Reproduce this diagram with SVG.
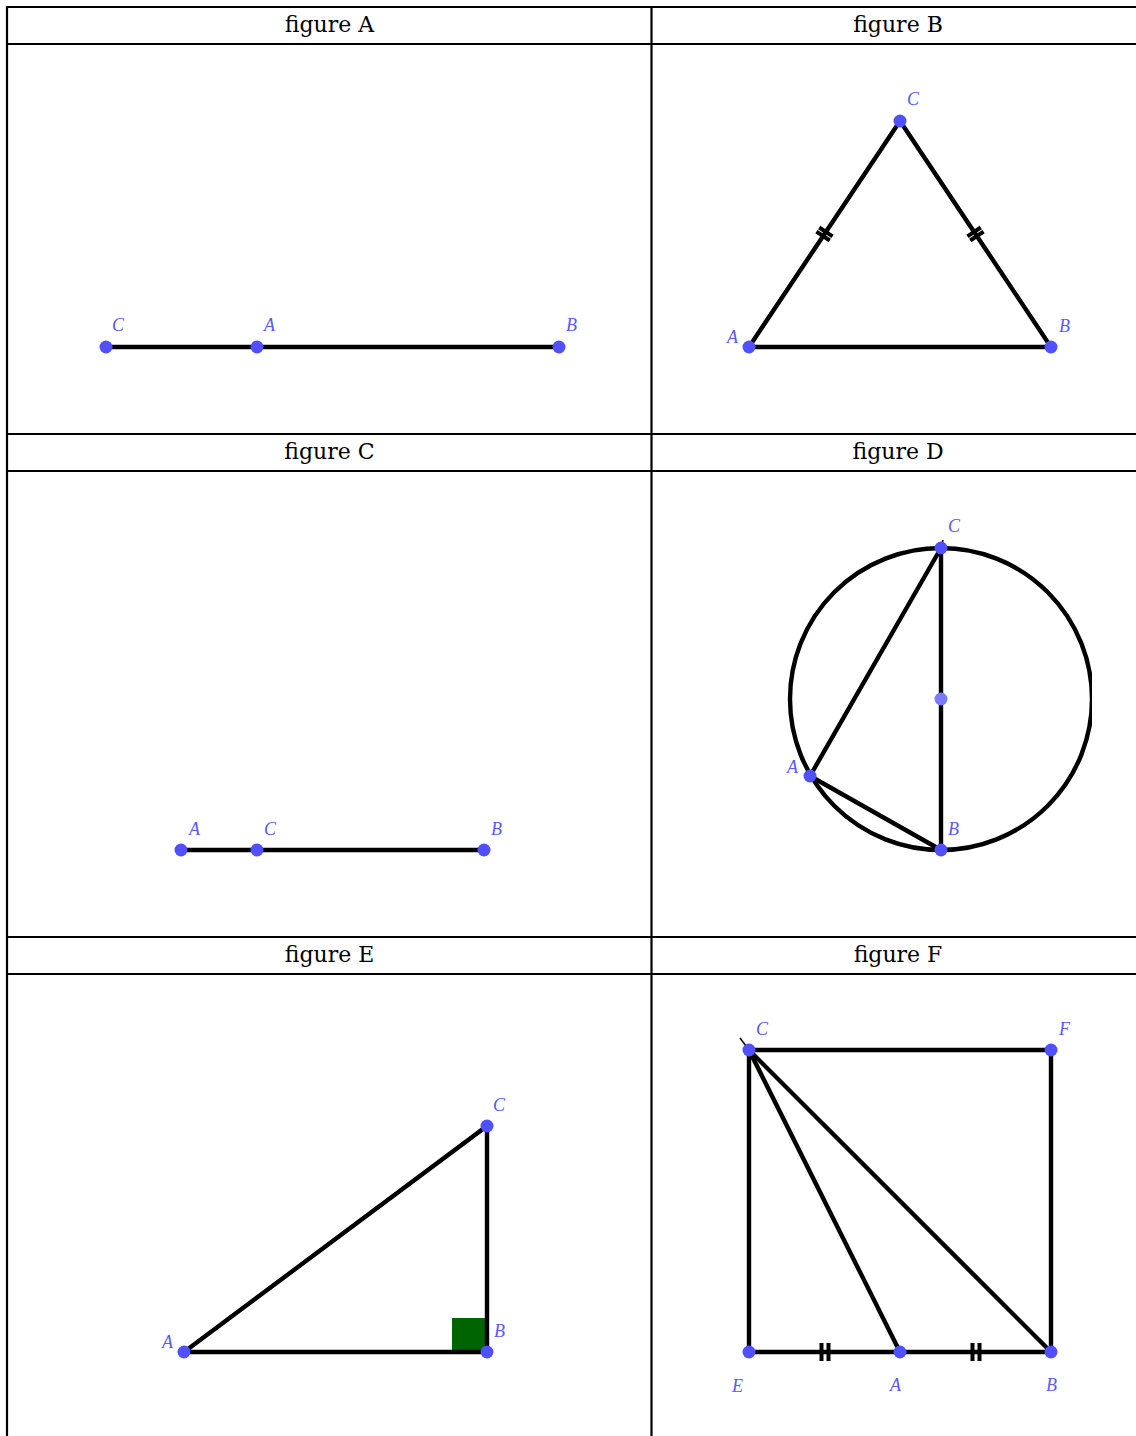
<svg xmlns="http://www.w3.org/2000/svg" width="1136" height="1436" viewBox="0 0 1136 1436">
<style>
.grid{stroke:#000;stroke-width:2.2;fill:none}
.hd{font-family:"DejaVu Serif","Liberation Serif",serif;font-size:22px;fill:#000;text-anchor:middle}
.ln{stroke:#000;stroke-width:4.4;fill:none;stroke-linecap:round}
.tk{stroke:#000;stroke-width:4;fill:none}
.pt{fill:#5050ff}
.pc{fill:#7b7bff}
.lb{font-family:"Liberation Serif","DejaVu Serif",serif;font-style:italic;font-size:18px;fill:#5a5af5}
</style>
<rect width="1136" height="1436" fill="#fff"/>
<g id="table">
<line class="grid" x1="7" y1="7" x2="1136" y2="7"/>
<line class="grid" x1="7" y1="44" x2="1136" y2="44"/>
<line class="grid" x1="7" y1="434" x2="1136" y2="434"/>
<line class="grid" x1="7" y1="471" x2="1136" y2="471"/>
<line class="grid" x1="7" y1="937" x2="1136" y2="937"/>
<line class="grid" x1="7" y1="974" x2="1136" y2="974"/>
<line class="grid" x1="7" y1="6" x2="7" y2="1436"/>
<line class="grid" x1="651.5" y1="6" x2="651.5" y2="1436"/>
<text class="hd" x="329.5" y="32">figure A</text>
<text class="hd" x="898" y="32">figure B</text>
<text class="hd" x="329.5" y="459">figure C</text>
<text class="hd" x="898" y="459">figure D</text>
<text class="hd" x="329.5" y="962">figure E</text>
<text class="hd" x="898" y="962">figure F</text>
</g>

<g id="figA">
<line class="ln" x1="106" y1="347" x2="559" y2="347"/>
<circle class="pt" cx="106" cy="347" r="6.5"/>
<circle class="pt" cx="257" cy="347" r="6.5"/>
<circle class="pt" cx="559" cy="347" r="6.5"/>
<text class="lb" x="112" y="331">C</text>
<text class="lb" x="264" y="331">A</text>
<text class="lb" x="566" y="331">B</text>
</g>

<g id="figB">
<polygon class="ln" points="749,347 1051,347 900,121"/>
<g transform="translate(824.5,234) rotate(-56.25)">
<line class="tk" x1="-2.5" y1="-8" x2="-2.5" y2="8"/>
<line class="tk" x1="2.5" y1="-8" x2="2.5" y2="8"/>
</g>
<g transform="translate(975.5,234) rotate(56.25)">
<line class="tk" x1="-2.5" y1="-8" x2="-2.5" y2="8"/>
<line class="tk" x1="2.5" y1="-8" x2="2.5" y2="8"/>
</g>
<circle class="pt" cx="749" cy="347" r="6.5"/>
<circle class="pt" cx="1051" cy="347" r="6.5"/>
<circle class="pt" cx="900" cy="121" r="6.5"/>
<text class="lb" x="907" y="105">C</text>
<text class="lb" x="727" y="343">A</text>
<text class="lb" x="1059" y="332">B</text>
</g>

<g id="figC">
<line class="ln" x1="181" y1="850" x2="484" y2="850"/>
<circle class="pt" cx="181" cy="850" r="6.5"/>
<circle class="pt" cx="257" cy="850" r="6.5"/>
<circle class="pt" cx="484" cy="850" r="6.5"/>
<text class="lb" x="189" y="835">A</text>
<text class="lb" x="264" y="835">C</text>
<text class="lb" x="491" y="835">B</text>
</g>

<g id="figD">
<clipPath id="clipD"><rect x="700" y="500" width="392" height="400"/></clipPath>
<circle class="ln" cx="941" cy="699" r="151" clip-path="url(#clipD)"/>
<line class="ln" x1="941" y1="548" x2="941" y2="850"/>
<line class="ln" x1="941" y1="548" x2="810" y2="776"/>
<line class="ln" x1="810" y1="776" x2="941" y2="850"/>
<line stroke="#000" stroke-width="1.5" x1="941" y1="548" x2="943" y2="540"/>
<circle class="pc" cx="941" cy="699" r="6.5"/>
<circle class="pt" cx="941" cy="548" r="6.5"/>
<circle class="pt" cx="810" cy="776" r="6.5"/>
<circle class="pt" cx="941" cy="850" r="6.5"/>
<text class="lb" x="948" y="532">C</text>
<text class="lb" x="787" y="773">A</text>
<text class="lb" x="948" y="835">B</text>
</g>

<g id="figE">
<rect x="452" y="1318" width="33" height="34" fill="#006400"/>
<polygon class="ln" points="184,1352 487,1352 487,1126"/>
<circle class="pt" cx="184" cy="1352" r="6.5"/>
<circle class="pt" cx="487" cy="1352" r="6.5"/>
<circle class="pt" cx="487" cy="1126" r="6.5"/>
<text class="lb" x="162" y="1348">A</text>
<text class="lb" x="494" y="1337">B</text>
<text class="lb" x="493" y="1111">C</text>
</g>

<g id="figF">
<polygon class="ln" points="749,1050 1051,1050 1051,1352 749,1352"/>
<line class="ln" x1="749" y1="1050" x2="900" y2="1352"/>
<line class="ln" x1="749" y1="1050" x2="1051" y2="1352"/>
<line stroke="#000" stroke-width="1.5" x1="749" y1="1050" x2="740" y2="1038"/>
<line class="tk" x1="821.5" y1="1343" x2="821.5" y2="1361"/>
<line class="tk" x1="828.5" y1="1343" x2="828.5" y2="1361"/>
<line class="tk" x1="972.5" y1="1343" x2="972.5" y2="1361"/>
<line class="tk" x1="979.5" y1="1343" x2="979.5" y2="1361"/>
<circle class="pt" cx="749" cy="1050" r="6.5"/>
<circle class="pt" cx="1051" cy="1050" r="6.5"/>
<circle class="pt" cx="749" cy="1352" r="6.5"/>
<circle class="pt" cx="900" cy="1352" r="6.5"/>
<circle class="pt" cx="1051" cy="1352" r="6.5"/>
<text class="lb" x="756" y="1035">C</text>
<text class="lb" x="1059" y="1035">F</text>
<text class="lb" x="732" y="1392">E</text>
<text class="lb" x="890" y="1391">A</text>
<text class="lb" x="1046" y="1391">B</text>
</g>
</svg>
